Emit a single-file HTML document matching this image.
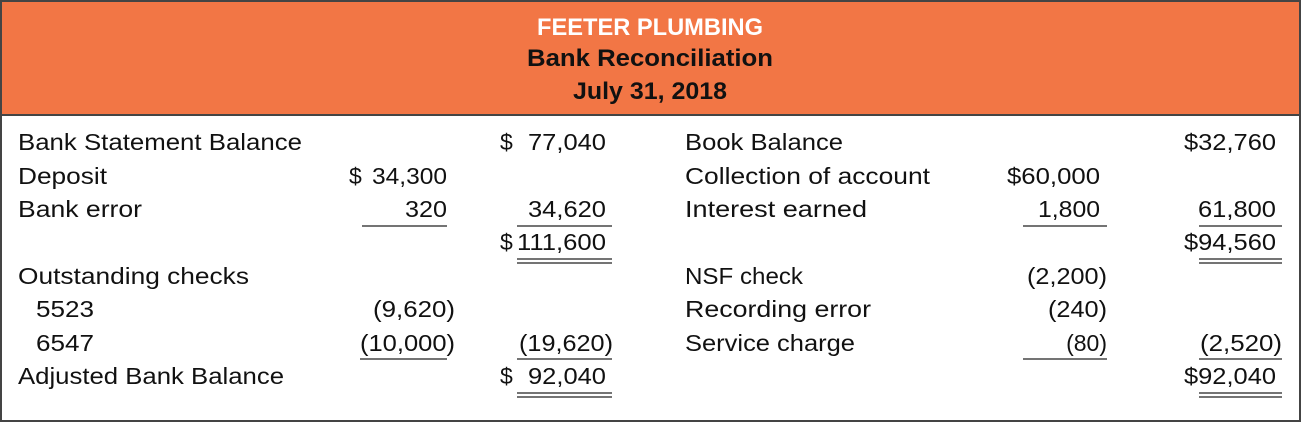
<!DOCTYPE html>
<html><head><meta charset="utf-8"><style>
html,body{margin:0;padding:0;background:#fff;}
svg{display:block;}
text{font-family:"Liberation Sans",sans-serif;font-size:23px;fill:#111;}
.h{font-weight:bold;text-anchor:middle;font-size:24px;}
line{stroke:#222;stroke-width:1.3;}
</style></head><body>
<svg width="1301" height="422" viewBox="0 0 1301 422">
<rect x="0" y="0" width="1301" height="115" fill="#F27645"/>
<rect x="1" y="1" width="1299" height="420" fill="none" stroke="#444" stroke-width="2"/>
<line x1="0" y1="115" x2="1301" y2="115" style="stroke:#444;stroke-width:2"/>
<text class="h" x="650" y="35" textLength="226" lengthAdjust="spacingAndGlyphs" style="fill:#fff">FEETER PLUMBING</text>
<text class="h" x="650" y="66" textLength="246" lengthAdjust="spacingAndGlyphs">Bank Reconciliation</text>
<text class="h" x="650" y="99" textLength="154" lengthAdjust="spacingAndGlyphs">July 31, 2018</text>

<text x="18" y="150" textLength="284" lengthAdjust="spacingAndGlyphs">Bank Statement Balance</text>
<text x="18" y="184" textLength="89" lengthAdjust="spacingAndGlyphs">Deposit</text>
<text x="18" y="217" textLength="124" lengthAdjust="spacingAndGlyphs">Bank error</text>
<text x="18" y="284" textLength="231" lengthAdjust="spacingAndGlyphs">Outstanding checks</text>
<text x="36" y="317" textLength="58" lengthAdjust="spacingAndGlyphs">5523</text>
<text x="36" y="351" textLength="58" lengthAdjust="spacingAndGlyphs">6547</text>
<text x="18" y="384" textLength="266" lengthAdjust="spacingAndGlyphs">Adjusted Bank Balance</text>

<text x="500" y="150">$</text><text x="528" y="150" textLength="78" lengthAdjust="spacingAndGlyphs">77,040</text>
<text x="349" y="184">$</text><text x="372" y="184" textLength="75" lengthAdjust="spacingAndGlyphs">34,300</text>
<text x="405" y="217" textLength="42" lengthAdjust="spacingAndGlyphs">320</text>
<text x="528" y="217" textLength="78" lengthAdjust="spacingAndGlyphs">34,620</text>
<text x="500" y="250">$</text><text x="517" y="250" textLength="89" lengthAdjust="spacingAndGlyphs">111,600</text>
<text x="373" y="317" textLength="82" lengthAdjust="spacingAndGlyphs">(9,620)</text>
<text x="360" y="351" textLength="95" lengthAdjust="spacingAndGlyphs">(10,000)</text>
<text x="519" y="351" textLength="94" lengthAdjust="spacingAndGlyphs">(19,620)</text>
<text x="500" y="384">$</text><text x="528" y="384" textLength="78" lengthAdjust="spacingAndGlyphs">92,040</text>

<text x="685" y="150" textLength="158" lengthAdjust="spacingAndGlyphs">Book Balance</text>
<text x="685" y="184" textLength="245" lengthAdjust="spacingAndGlyphs">Collection of account</text>
<text x="685" y="217" textLength="182" lengthAdjust="spacingAndGlyphs">Interest earned</text>
<text x="685" y="284" textLength="118" lengthAdjust="spacingAndGlyphs">NSF check</text>
<text x="685" y="317" textLength="186" lengthAdjust="spacingAndGlyphs">Recording error</text>
<text x="685" y="351" textLength="170" lengthAdjust="spacingAndGlyphs">Service charge</text>

<text x="1184" y="150" textLength="92" lengthAdjust="spacingAndGlyphs">$32,760</text>
<text x="1007" y="184" textLength="93" lengthAdjust="spacingAndGlyphs">$60,000</text>
<text x="1038" y="217" textLength="62" lengthAdjust="spacingAndGlyphs">1,800</text>
<text x="1198" y="217" textLength="78" lengthAdjust="spacingAndGlyphs">61,800</text>
<text x="1184" y="250" textLength="92" lengthAdjust="spacingAndGlyphs">$94,560</text>
<text x="1027" y="284" textLength="80" lengthAdjust="spacingAndGlyphs">(2,200)</text>
<text x="1048" y="317" textLength="59" lengthAdjust="spacingAndGlyphs">(240)</text>
<text x="1107" y="351" text-anchor="end">(80)</text>
<text x="1200" y="351" textLength="82" lengthAdjust="spacingAndGlyphs">(2,520)</text>
<text x="1184" y="384" textLength="92" lengthAdjust="spacingAndGlyphs">$92,040</text>

<line x1="362" y1="226" x2="447" y2="226"/>
<line x1="517" y1="226" x2="612" y2="226"/>
<line x1="517" y1="259" x2="612" y2="259"/>
<line x1="517" y1="263" x2="612" y2="263"/>
<line x1="360" y1="359" x2="447" y2="359"/>
<line x1="517" y1="359" x2="612" y2="359"/>
<line x1="517" y1="393" x2="612" y2="393"/>
<line x1="517" y1="397" x2="612" y2="397"/>

<line x1="1023" y1="226" x2="1107" y2="226"/>
<line x1="1199" y1="226" x2="1282" y2="226"/>
<line x1="1199" y1="259" x2="1282" y2="259"/>
<line x1="1199" y1="263" x2="1282" y2="263"/>
<line x1="1023" y1="359" x2="1107" y2="359"/>
<line x1="1199" y1="359" x2="1282" y2="359"/>
<line x1="1199" y1="393" x2="1282" y2="393"/>
<line x1="1199" y1="397" x2="1282" y2="397"/>
</svg>
</body></html>
